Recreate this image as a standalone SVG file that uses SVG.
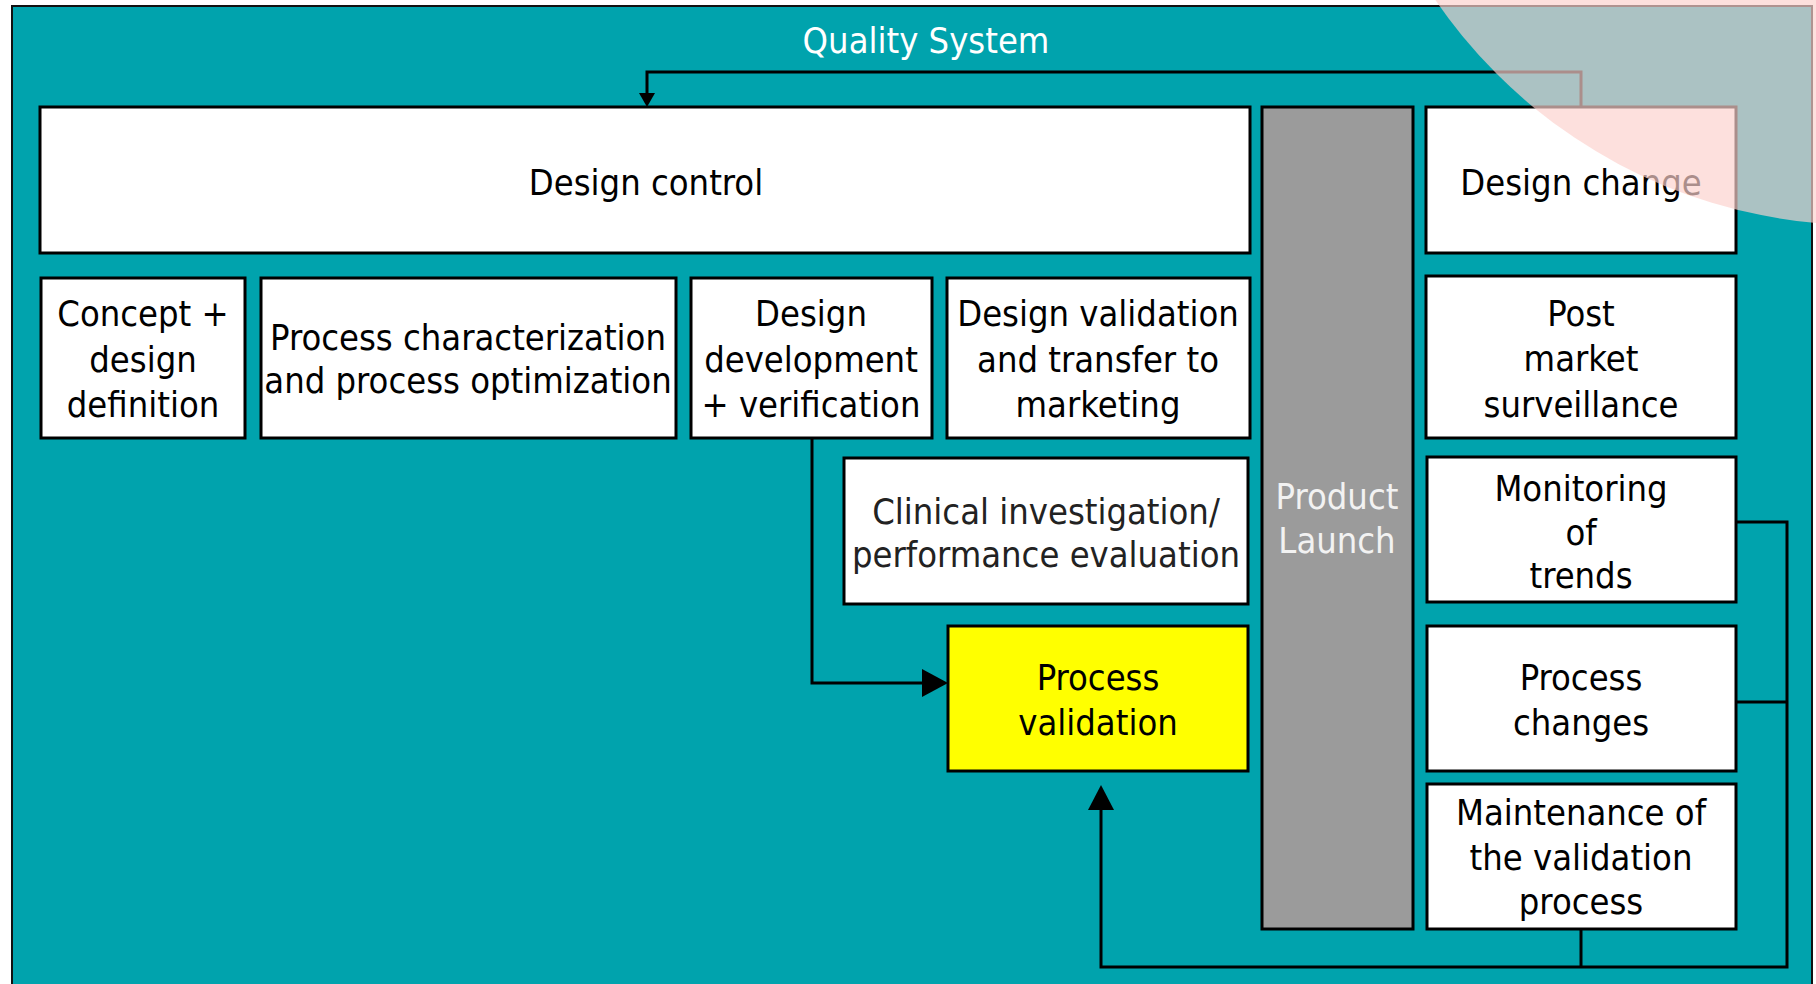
<svg xmlns="http://www.w3.org/2000/svg" width="1816" height="984" viewBox="0 0 1816 984">
<style>
.box{fill:#ffffff;stroke:#000;stroke-width:3}
.t{font-family:"DejaVu Sans Condensed","DejaVu Sans",sans-serif;font-size:36px;fill:#000;text-anchor:middle}
.w{fill:#f2f2f2}
.c{fill:none;stroke:#000;stroke-width:3}
.ah{fill:#000}
</style>
<rect width="1816" height="984" fill="#ffffff"/>
<rect x="12" y="6" width="1800" height="1000" fill="#00A3AD" stroke="#111" stroke-width="2"/>
<text class="t w" x="926" y="53" fill="#ffffff" style="fill:#ffffff">Quality System</text>

<g id="connectors">
<path class="c" d="M1581,107 V72 H647 V95"/>
<polygon class="ah" points="639,93 655,93 647,107"/>
<path class="c" d="M812,438 V683 H924"/>
<polygon class="ah" points="922,669 948,683 922,697"/>
<path class="c" d="M1736,522 H1787 V967 H1101 V808"/>
<polygon class="ah" points="1088,810 1114,810 1101,785"/>
<path class="c" d="M1736,702 H1787"/>
<path class="c" d="M1581,929 V967"/>
</g>

<g id="design-control"><rect class="box" x="40" y="107" width="1210" height="146"/><text class="t" x="646" y="195">Design control</text></g>
<g id="product-launch"><rect x="1262" y="107" width="151" height="822" fill="#9B9B9B" stroke="#000" stroke-width="3"/><text class="t w" x="1337" y="509">Product</text><text class="t w" x="1337" y="553">Launch</text></g>
<g id="design-change"><rect class="box" x="1426" y="107" width="310" height="146"/><text class="t" x="1581" y="195">Design change</text></g>

<g id="concept"><rect class="box" x="41" y="278" width="204" height="160"/><text class="t" x="143" y="326">Concept +</text><text class="t" x="143" y="372">design</text><text class="t" x="143" y="417">definition</text></g>
<g id="process-char"><rect class="box" x="261" y="278" width="415" height="160"/><text class="t" x="468" y="350">Process characterization</text><text class="t" x="468" y="393">and process optimization</text></g>
<g id="design-dev"><rect class="box" x="691" y="278" width="241" height="160"/><text class="t" x="811" y="326">Design</text><text class="t" x="811" y="372">development</text><text class="t" x="811" y="417">+ verification</text></g>
<g id="design-validation"><rect class="box" x="947" y="278" width="303" height="160"/><text class="t" x="1098" y="326">Design validation</text><text class="t" x="1098" y="372">and transfer to</text><text class="t" x="1098" y="417">marketing</text></g>
<g id="post-market"><rect class="box" x="1426" y="276" width="310" height="162"/><text class="t" x="1581" y="326">Post</text><text class="t" x="1581" y="371">market</text><text class="t" x="1581" y="417">surveillance</text></g>

<g id="clinical"><rect class="box" x="844" y="458" width="404" height="146"/><text class="t" x="1046" y="524" style="fill:#222">Clinical investigation/</text><text class="t" x="1046" y="567" style="fill:#222">performance evaluation</text></g>
<g id="monitoring"><rect class="box" x="1427" y="457" width="309" height="145"/><text class="t" x="1581" y="501">Monitoring</text><text class="t" x="1581" y="545">of</text><text class="t" x="1581" y="588">trends</text></g>

<g id="process-validation"><rect x="948" y="626" width="300" height="145" fill="#FFFF00" stroke="#000" stroke-width="3"/><text class="t" x="1098" y="690">Process</text><text class="t" x="1098" y="735">validation</text></g>
<g id="process-changes"><rect class="box" x="1427" y="626" width="309" height="145"/><text class="t" x="1581" y="690">Process</text><text class="t" x="1581" y="735">changes</text></g>
<g id="maintenance"><rect class="box" x="1427" y="784" width="309" height="145"/><text class="t" x="1581" y="825">Maintenance of</text><text class="t" x="1581" y="870">the validation</text><text class="t" x="1581" y="914">process</text></g>

<circle cx="1862" cy="-292" r="517" fill="#FCD1CD" opacity="0.68"/>
</svg>
